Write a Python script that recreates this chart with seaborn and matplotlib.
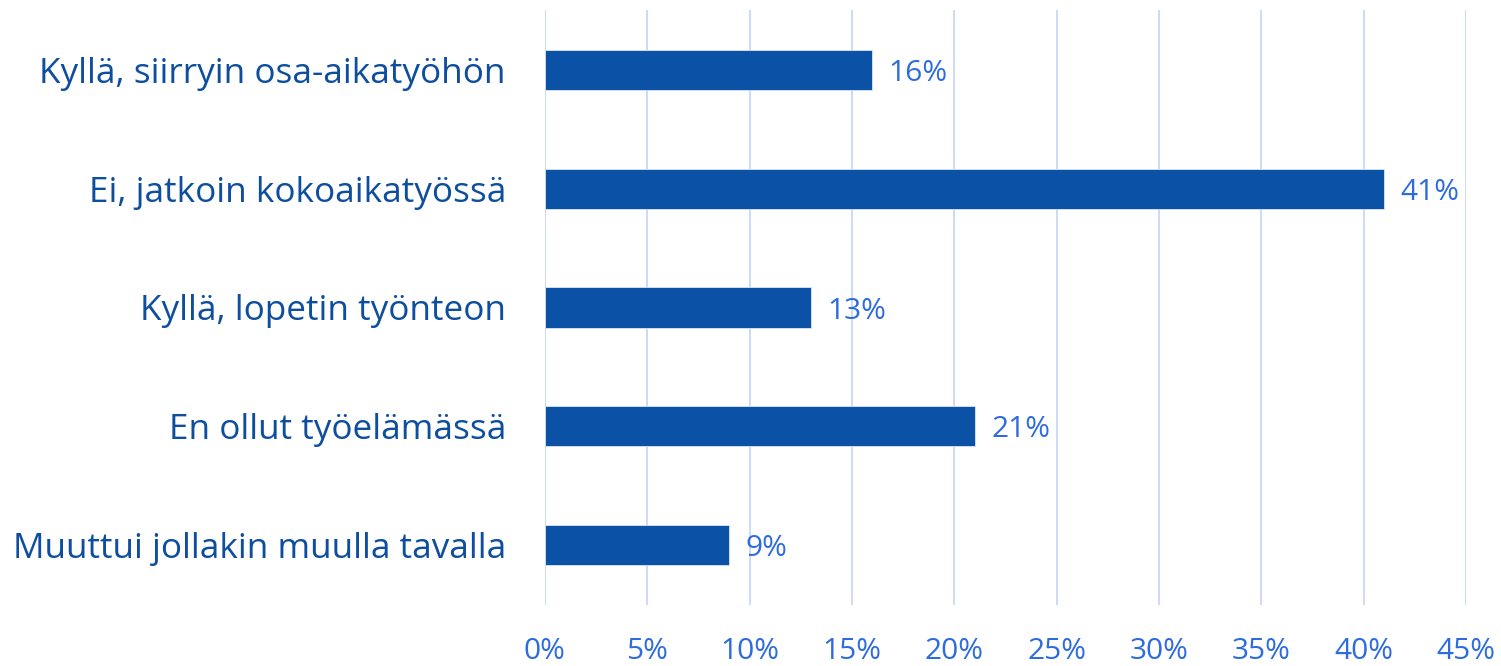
import pandas as pd
import matplotlib.pyplot as plt
import seaborn as sns

# Data
categories = [
    "Kyllä, siirryin osa-aikatyöhön",
    "Ei, jatkoin kokoaikatyössä",
    "Kyllä, lopetin työnteon",
    "En ollut työelämässä",
    "Muuttui jollakin muulla tavalla",
]
values = [16, 41, 13, 21, 9]
x_ticks = [0, 5, 10, 15, 20, 25, 30, 35, 40, 45]

df = pd.DataFrame({"category": categories, "value": values})

BAR_COLOR = "#0B51A6"
LABEL_COLOR = "#0E4E9E"
VALUE_COLOR = "#2C6BE0"
GRID_COLOR = "#CCDAF8"

sns.set_style("white")
plt.rcParams["font.family"] = ["Open Sans", "DejaVu Sans"]

fig = plt.figure(figsize=(15.01, 6.66), dpi=100)
ax = fig.add_axes([0.363, 0.0916, 0.6137, 0.8934])

sns.barplot(data=df, x="value", y="category", orient="h", color=BAR_COLOR,
            saturation=1, width=0.34, edgecolor="#DCE6F6", linewidth=0.6,
            ax=ax, zorder=3)

# value labels next to the bars
for i, v in enumerate(values):
    ax.text(v + 0.8, i + 0.03, f"{v}%", va="center", ha="left",
            color=VALUE_COLOR, fontsize=21.5)

ax.set_xlim(0, 45)
ax.set_ylim(4.505, -0.505)
ax.set_xticks(x_ticks)
ax.set_xticklabels([f"{t}%" for t in x_ticks])
ax.xaxis.grid(True, color=GRID_COLOR, linewidth=1.4, zorder=0)
ax.set_axisbelow(True)
ax.set_xlabel("")
ax.set_ylabel("")

for s in ax.spines.values():
    s.set_visible(False)

ax.tick_params(axis="x", length=0, pad=23, labelsize=21.5, labelcolor=VALUE_COLOR)
ax.tick_params(axis="y", length=0, pad=28, labelsize=25.3, labelcolor=LABEL_COLOR)

fig.savefig("out.png", dpi=100)
